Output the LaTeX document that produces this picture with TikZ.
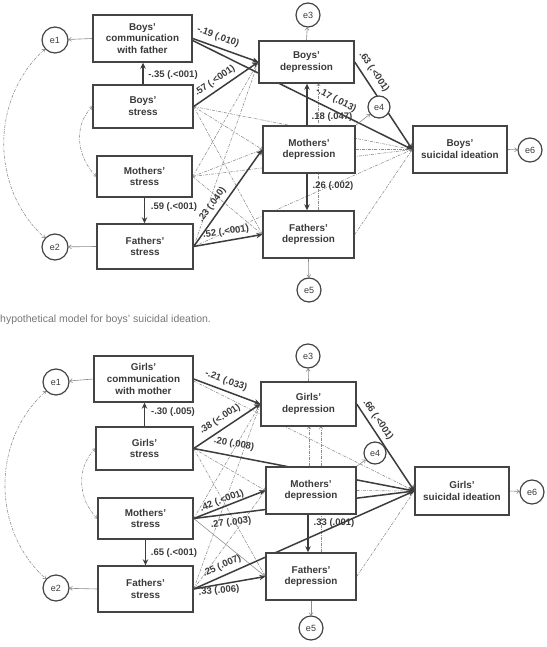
\documentclass[tikz,border=0pt]{standalone}
\usepackage{fontspec}
\setmainfont{Liberation Sans}
\usetikzlibrary{arrows.meta}
\pgfdeclarelayer{bg}
\pgfsetlayers{bg,main}
\definecolor{boxc}{HTML}{444444}
\definecolor{txtc}{HTML}{3A3A3A}
\definecolor{thk}{HTML}{3C3C3C}
\definecolor{dsh}{HTML}{8A8A8A}
\definecolor{capc}{HTML}{777777}
\begin{document}
\begin{tikzpicture}[x=1pt,y=1pt,
  var/.style={draw=boxc, line width=1.4pt, fill=white, text=txtc,
    font=\fontsize{9.9}{11.8}\selectfont\bfseries, align=center, inner sep=0pt},
  err/.style={circle, draw=boxc, line width=1.2pt, fill=white, text=txtc,
    font=\fontsize{9}{10}\selectfont, inner sep=0pt},
  sig/.style={draw=thk, line width=1.5pt, -{Stealth[length=6pt,width=5.5pt]}},
  nsig/.style={draw=dsh, line width=0.55pt, dash pattern=on 3pt off 1.2pt on 0.8pt off 1.2pt,
    -{To[length=2.5pt,width=4pt]}},
  res/.style={draw=dsh, line width=0.6pt, -{To[length=3pt,width=4.5pt]}},
  cov/.style={draw=dsh, line width=0.55pt, dash pattern=on 3pt off 1.2pt on 0.8pt off 1.2pt,
    {To[length=3pt,width=4pt]}-{To[length=3pt,width=4pt]}},
  lab/.style={text=txtc, font=\fontsize{9.5}{10}\selectfont\bfseries, inner sep=0pt},
]
\useasboundingbox (0,0) rectangle (546,-647);

% ---------------- top model ----------------
\node[var, minimum width=99pt, minimum height=47pt] (C) at (142.5,-38.5) {Boys'\\communication\\with father};
\node[var, minimum width=100pt, minimum height=43pt] (BS) at (143,-106.5) {Boys'\\stress};
\node[var, minimum width=95pt, minimum height=41pt] (MS) at (144.5,-176.5) {Mothers'\\stress};
\node[var, minimum width=96pt, minimum height=45pt] (FS) at (145,-246.5) {Fathers'\\stress};
\node[var, minimum width=95pt, minimum height=42pt] (BD) at (306.5,-62) {Boys'\\depression};
\node[var, minimum width=92pt, minimum height=47pt] (MD) at (309,-149.5) {Mothers'\\depression};
\node[var, minimum width=91pt, minimum height=47pt] (FD) at (308.5,-234.5) {Fathers'\\depression};
\node[var, minimum width=94pt, minimum height=47pt] (SI) at (460,-149.5) {Boys'\\suicidal ideation};
\node[err, minimum size=26pt] (e1) at (55,-40) {e1};
\node[err, minimum size=26pt] (e2) at (55,-247) {e2};
\node[err, minimum size=24pt] (e3) at (308,-15) {e3};
\node[err, minimum size=22pt] (e4) at (379,-107) {e4};
\node[err, minimum size=24pt] (e5) at (309,-290) {e5};
\node[err, minimum size=24pt] (e6) at (530,-150) {e6};

\node[anchor=west, inner sep=0pt, text=capc, font=\fontsize{10.5}{12}\selectfont] (cap) at (0,-320)
  {hypothetical model for boys' suicidal ideation.};

% ---------------- bottom model ----------------
\node[var, minimum width=99pt, minimum height=46pt] (GC) at (143.5,-379) {Girls'\\communication\\with mother};
\node[var, minimum width=97pt, minimum height=43pt] (GS) at (144.5,-448.5) {Girls'\\stress};
\node[var, minimum width=95pt, minimum height=41pt] (MS2) at (145.5,-518.5) {Mothers'\\stress};
\node[var, minimum width=95pt, minimum height=46pt] (FS2) at (145.5,-589) {Fathers'\\stress};
\node[var, minimum width=95pt, minimum height=44pt] (GD) at (308.5,-404) {Girls'\\depression};
\node[var, minimum width=90pt, minimum height=47pt] (MD2) at (311,-490.5) {Mothers'\\depression};
\node[var, minimum width=90pt, minimum height=47pt] (FD2) at (311,-576.5) {Fathers'\\depression};
\node[var, minimum width=94pt, minimum height=48pt] (SI2) at (462,-491) {Girls'\\suicidal ideation};
\node[err, minimum size=26pt] (f1) at (56,-382) {e1};
\node[err, minimum size=26pt] (f2) at (56,-588) {e2};
\node[err, minimum size=24pt] (f3) at (308,-356) {e3};
\node[err, minimum size=22pt] (f4) at (375,-453) {e4};
\node[err, minimum size=24pt] (f5) at (311,-628) {e5};
\node[err, minimum size=24pt] (f6) at (532,-492) {e6};

\begin{pgfonlayer}{bg}
% ---- top: non-significant paths
\draw[nsig] (BS.east) -- (MD.west);
\draw[nsig] (BS.east) -- (FD.west);
\draw[nsig] (BS.east) -- (SI.west);
\draw[nsig] (MS.east) -- (BD.west);
\draw[nsig] (MS.east) -- (MD.west);
\draw[nsig] (MS.east) -- (FD.west);
\draw[nsig] (MS.east) -- (SI.west);
\draw[nsig] (FS.east) -- (BD.west);
\draw[nsig] (FS.east) -- (SI.west);
\draw[nsig] ([xshift=10pt]FD.north) -- ([xshift=10pt]FD.north |- BD.south);
\draw[nsig] (MD.east) -- (SI.west);
\draw[nsig] (FD.east) -- (SI.west);
% ---- top: significant paths
\draw[sig] (BS.north) -- (BS.north |- C.south);
\draw[sig] (C.east) -- (BD.west);
\draw[sig] ([yshift=-2pt]C.east) -- (SI.west);
\draw[sig] (BS.east) -- (BD.west);
\draw[sig] (MS.south) -- (MS.south |- FS.north);
\draw[sig] (FS.east) -- (MD.west);
\draw[sig] (FS.east) -- (FD.west);
\draw[sig] ([xshift=-2pt]MD.north) -- ([xshift=-2pt]MD.north |- BD.south);
\draw[sig] ([xshift=-2pt]MD.south) -- ([xshift=-2pt]MD.south |- FD.north);
\draw[sig] (BD.east) -- (SI.west);
% ---- top: residuals and covariances
\draw[res] (C.west) -- (e1);
\draw[res] (FS.west) -- (e2);
\draw[res] (BD.north) -- (e3);
\draw[res] (MD.north east) -- (e4);
\draw[res] (FD.south) -- (e5);
\draw[res] (SI.east) -- (e6);
\draw[cov] (e1) to[out=222,in=138] (e2);
\draw[cov] (BS.west) to[out=225,in=135] (MS.west);

% ---- bottom: non-significant paths
\draw[nsig] ([yshift=-2pt]GC.east) -- (SI2.west);
\draw[nsig] (GS.east) -- (MD2.west);
\draw[nsig] (GS.east) -- (FD2.west);
\draw[nsig] (MS2.east) -- (GD.west);
\draw[nsig, dash pattern=] (MS2.east) -- (FD2.west);
\draw[nsig] (FS2.east) -- (GD.west);
\draw[nsig] (FS2.east) -- (MD2.west);
\draw[nsig] ([xshift=-2pt]MD2.north) -- ([xshift=-2pt]MD2.north |- GD.south);
\draw[nsig] ([xshift=10pt]FD2.north) -- ([xshift=10pt]FD2.north |- GD.south);
\draw[nsig] (MD2.east) -- (SI2.west);
\draw[nsig] (FD2.east) -- (SI2.west);
% ---- bottom: significant paths
\draw[sig] (GS.north) -- (GS.north |- GC.south);
\draw[sig] (GC.east) -- (GD.west);
\draw[sig] (GS.east) -- (GD.west);
\draw[sig] (GS.east) -- (SI2.west);
\draw[sig] (MS2.east) -- (MD2.west);
\draw[sig] (MS2.east) -- (SI2.west);
\draw[sig] (MS2.south) -- (MS2.south |- FS2.north);
\draw[sig] (FS2.east) -- (SI2.west);
\draw[sig] (FS2.east) -- (FD2.west);
\draw[sig] ([xshift=-3pt]MD2.south) -- ([xshift=-3pt]MD2.south |- FD2.north);
\draw[sig] (GD.east) -- (SI2.west);
% ---- bottom: residuals and covariances
\draw[res] (GC.west) -- (f1);
\draw[res] (FS2.west) -- (f2);
\draw[res] (GD.north) -- (f3);
\draw[res] (MD2.north east) -- (f4);
\draw[res] (FD2.south) -- (f5);
\draw[res] (SI2.east) -- (f6);
\draw[cov] (f1) to[out=222,in=138] (f2);
\draw[cov] (GS.west) to[out=225,in=135] (MS2.west);
\end{pgfonlayer}

% ---------------- labels ----------------
\node[lab, rotate=-20] (l1) at (218,-37) {-.19 (.010)};
\node[lab] (l2) at (173,-75) {-.35 (.<001)};
\node[lab, rotate=34] (l3) at (215,-81) {.57 (.<001)};
\node[lab, rotate=-27] (l4) at (336,-100) {-.17 (.013)};
\node[lab] (l5) at (332,-117) {.18 (.047)};
\node[lab, rotate=-56] (l6) at (374,-72) {.63 (.<001)};
\node[lab] (l7) at (174,-207) {.59 (.<001)};
\node[lab, rotate=54] (l8) at (212,-205) {.23 (.040)};
\node[lab, rotate=8] (l9) at (226,-232) {.52 (.<001)};
\node[lab] (l10) at (333,-186) {.26 (.002)};

\node[lab, rotate=-20] (m1) at (226,-381) {-.21 (.033)};
\node[lab] (m2) at (173,-412) {-.30 (.005)};
\node[lab, rotate=33] (m3) at (220,-419) {.38 (<.001)};
\node[lab, rotate=-11] (m4) at (234,-444) {.20 (.008)};
\node[lab, rotate=21] (m5) at (222,-501) {.42 (.<001)};
\node[lab, rotate=7] (m6) at (231,-523) {.27 (.003)};
\node[lab] (m7) at (174,-553) {.65 (.<001)};
\node[lab, rotate=24] (m8) at (222,-566) {.25 (.007)};
\node[lab, rotate=5] (m9) at (219,-591) {.33 (.006)};
\node[lab] (m10) at (334,-523) {.33 (.001)};
\node[lab, rotate=-56] (m11) at (378,-420) {.66 (.<001)};
\end{tikzpicture}
\end{document}
